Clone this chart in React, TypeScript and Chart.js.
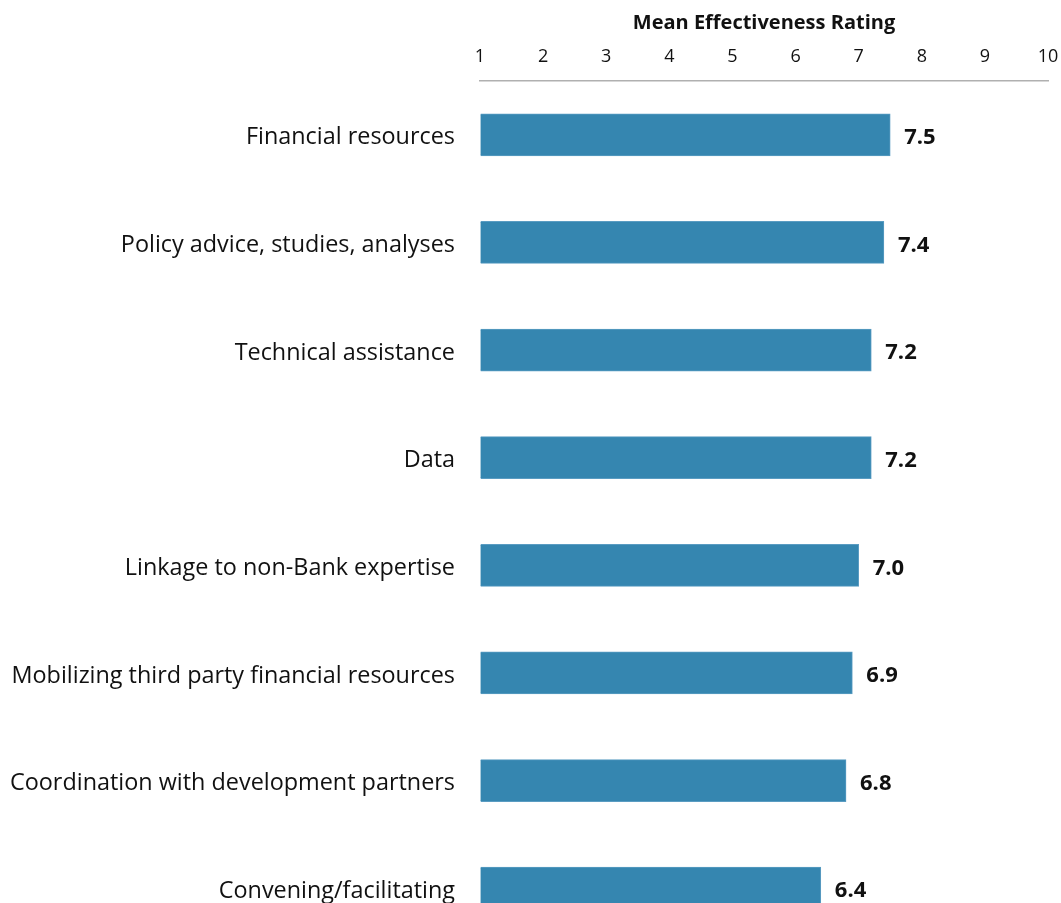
import React, { useEffect, useRef } from "react";
import { Chart, registerables } from "chart.js";

Chart.register(...registerables);

const categories: string[] = [
  "Financial resources",
  "Policy advice, studies, analyses",
  "Technical assistance",
  "Data",
  "Linkage to non-Bank expertise",
  "Mobilizing third party financial resources",
  "Coordination with development partners",
  "Convening/facilitating",
];
const meanRatings: number[] = [7.5, 7.4, 7.2, 7.2, 7.0, 6.9, 6.8, 6.4];
const axisMin = 1;
const axisMax = 10;
const axisTitle = "Mean Effectiveness Rating";

const FONT = "'Open Sans', 'Noto Sans', sans-serif";

const valueLabels = {
  id: "valueLabels",
  afterDatasetsDraw(chart: any) {
    const ctx = chart.ctx;
    const meta = chart.getDatasetMeta(0);
    ctx.save();
    ctx.font = `bold 22px ${FONT}`;
    ctx.fillStyle = "#111111";
    ctx.textAlign = "left";
    ctx.textBaseline = "middle";
    meta.data.forEach((bar: any, i: number) => {
      ctx.fillText(meanRatings[i].toFixed(1), bar.x + 14, bar.y + 3);
    });
    ctx.restore();
  },
};

export default function App() {
  const ref = useRef<HTMLCanvasElement | null>(null);
  useEffect(() => {
    if (!ref.current) return;
    const chart = new Chart(ref.current, {
      type: "bar",
      data: {
        labels: categories,
        datasets: [
          {
            data: meanRatings,
            base: axisMin,
            backgroundColor: "#3586b0",
            borderColor: "#5a9cc2",
            borderWidth: 1,
            barThickness: 42,
          } as any,
        ],
      },
      options: {
        indexAxis: "y",
        animation: false,
        responsive: false,
        maintainAspectRatio: false,
        layout: { padding: { left: 0, right: 13, top: 0, bottom: 0 } },
        plugins: {
          legend: { display: false },
          tooltip: { enabled: false },
        },
        scales: {
          x: {
            position: "top",
            min: axisMin,
            max: axisMax,
            ticks: {
              stepSize: 1,
              padding: 13,
              color: "#111111",
              font: { family: FONT, size: 18 },
            },
            grid: { display: true, drawOnChartArea: false, drawTicks: false, color: "rgba(0,0,0,0)" },
            border: { display: true, color: "#b0b0b0", width: 1.5 },
            title: {
              display: true,
              text: axisTitle,
              color: "#111111",
              font: { family: FONT, size: 20, weight: "bold" },
              padding: { top: 11, bottom: 0 },
            },
            afterFit(scale: any) {
              scale.height = 81;
              scale.paddingLeft = 0;
              scale.paddingRight = 0;
            },
          },
          y: {
            ticks: {
              padding: 17,
              labelOffset: 3,
              color: "#111111",
              font: { family: FONT, size: 23.4 },
            },
            grid: { display: false },
            border: { display: false },
            afterFit(scale: any) {
              scale.width = 480;
              scale.paddingTop = 0;
              scale.paddingBottom = 0;
            },
          },
        },
      },
      plugins: [valueLabels],
    });
    return () => chart.destroy();
  }, []);
  return (
    <div
      style={{
        position: "fixed",
        left: 0,
        top: 0,
        width: 1061,
        height: 903,
        overflow: "hidden",
        background: "#fff",
      }}
    >
      <canvas ref={ref} width={1061} height={942} style={{ display: "block" }} />
    </div>
  );
}
